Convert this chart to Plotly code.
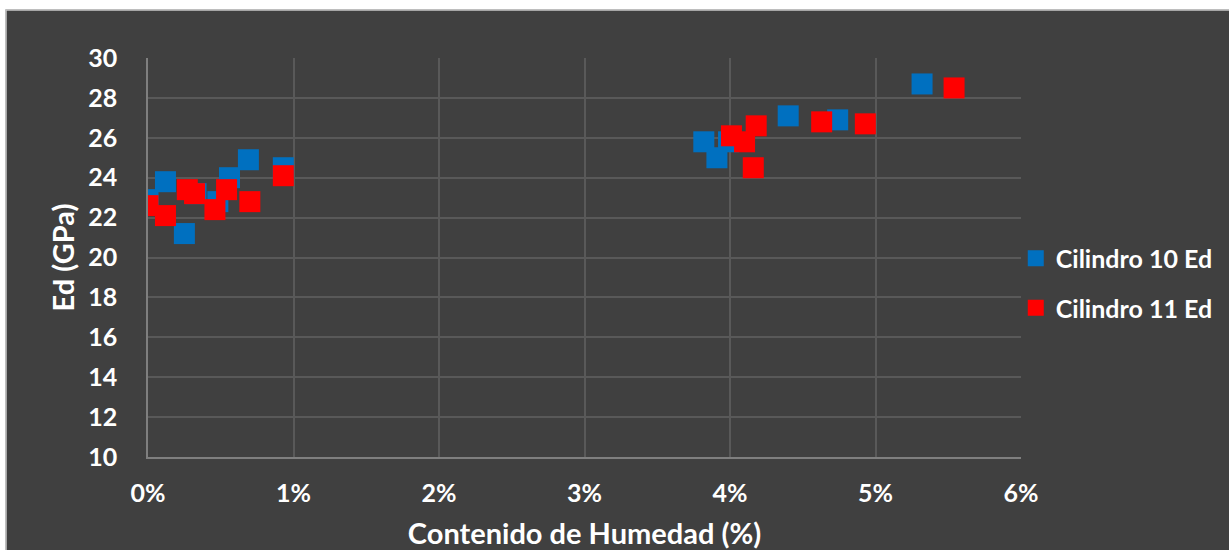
import plotly.graph_objects as go

# Data (moisture content as fraction, Ed in GPa)
c10_x = [0.0000, 0.0012, 0.0025, 0.0033, 0.0048, 0.0056, 0.0069, 0.0093,
         0.0382, 0.0391, 0.0399, 0.0440, 0.0474, 0.0532]
c10_y = [22.9, 23.8, 21.2, 23.2, 22.8, 24.0, 24.9, 24.5,
         25.8, 25.0, 25.8, 27.1, 26.9, 28.7]
c11_x = [0.0000, 0.0012, 0.0027, 0.0032, 0.0046, 0.0054, 0.0070, 0.0093,
         0.0401, 0.0410, 0.0418, 0.0416, 0.0463, 0.0493, 0.0554]
c11_y = [22.6, 22.1, 23.4, 23.2, 22.4, 23.4, 22.8, 24.1,
         26.1, 25.8, 26.6, 24.5, 26.8, 26.7, 28.5]

names = ["Cilindro 10 Ed", "Cilindro 11 Ed"]
colors = ["#0070C0", "#FF0000"]
x_title = "Contenido de Humedad (%)"
y_title = "Ed (GPa)"

FONT = "Lato"
BG = "#404040"
GRID = "#595959"
AXIS = "#7f7f7f"

fig = go.Figure()
for i, (xs, ys) in enumerate([(c10_x, c10_y), (c11_x, c11_y)]):
    fig.add_trace(go.Scatter(
        x=xs, y=ys, mode="markers", name=names[i], legendgroup=str(i),
        marker=dict(symbol="square", size=21, color=colors[i], line=dict(width=0)),
    ))

L, R, T, B = 148, 208, 58, 93
W, H = 1229, 550
pw = W - L - R
ph = H - T - B


def px(p):
    return (p - L) / pw


def py(q):
    return (H - B - q) / ph


fig.update_layout(
    width=W, height=H,
    margin=dict(l=L, r=R, t=T, b=B, pad=0, autoexpand=False),
    paper_bgcolor=BG, plot_bgcolor=BG,
    font=dict(family=FONT, color="white", size=25),
    showlegend=True,
    legend=dict(
        x=0.994, xanchor="left", y=py(283), yanchor="middle",
        font=dict(family=FONT, size=25, color="white", weight="bold"),
        bgcolor="rgba(0,0,0,0)", tracegroupgap=14, traceorder="grouped",
        itemsizing="trace",
    ),
    xaxis=dict(
        range=[0, 0.06], dtick=0.01, tick0=0, tickformat=".0%",
        showgrid=True, gridcolor=GRID, gridwidth=1.5,
        showline=True, linecolor=AXIS, linewidth=1.5, mirror=False,
        zeroline=False, ticks="", ticklabelstandoff=13, automargin=False,
        tickfont=dict(family=FONT, size=25, color="white", weight="bold"),
        title=dict(text=x_title, standoff=30,
                   font=dict(family=FONT, size=29, color="white", weight="bold")),
    ),
    yaxis=dict(
        range=[10, 30], dtick=2, tick0=10,
        showgrid=True, gridcolor=GRID, gridwidth=1.5,
        showline=True, linecolor=AXIS, linewidth=1.5,
        zeroline=False, ticks="", ticklabelstandoff=24, automargin=False,
        tickfont=dict(family=FONT, size=25, color="white", weight="bold"),
        title=dict(text=y_title, standoff=5,
                   font=dict(family=FONT, size=29, color="white", weight="bold")),
    ),
    shapes=[
        dict(type="rect", xref="paper", yref="paper", layer="above",
             x0=px(-20), x1=px(W + 20), y0=py(9.5), y1=py(-20),
             fillcolor="white", line=dict(width=0)),
        dict(type="rect", xref="paper", yref="paper", layer="above",
             x0=px(-20), x1=px(5.5), y0=py(H + 20), y1=py(-20),
             fillcolor="white", line=dict(width=0)),
        dict(type="rect", xref="paper", yref="paper", layer="above",
             x0=px(6), x1=px(W + 20), y0=py(H + 20), y1=py(10),
             fillcolor="rgba(0,0,0,0)", line=dict(width=1.5, color="#c8c8c8")),
    ],
)

fig.write_html(
    "out.html",
    config={"displayModeBar": False},
    post_script="document.body.style.margin='0';document.body.style.overflow='hidden';",
)
